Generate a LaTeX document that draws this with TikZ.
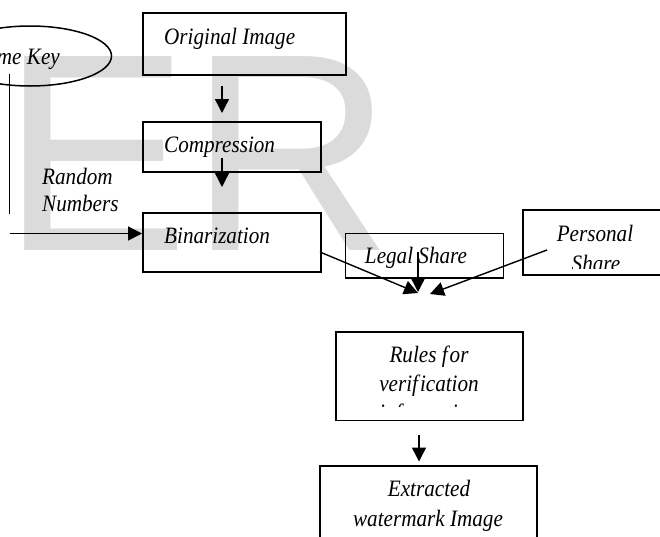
\documentclass[tikz,border=0pt]{standalone}
\usepackage{fontspec}
\setmainfont{Liberation Serif}[FakeStretch=0.9]
\newfontfamily\wmfont{Liberation Sans}
\usetikzlibrary{arrows.meta,shapes.geometric}
\begin{document}
\begin{tikzpicture}[x=1pt,y=-1pt,
  box/.style={draw,line width=1.5pt,rectangle,inner sep=0pt,anchor=north west},
  lbl/.style={inner sep=0pt,font=\fontsize{23.5}{28}\selectfont\itshape},
  conn/.style={line width=1.4pt},
  arr/.style={conn,-{Triangle[length=14pt,width=14pt]}}]
\useasboundingbox (0,0) rectangle (660,536);
% watermark
\node[font=\wmfont\fontsize{282}{282}\selectfont, text=black!14, inner sep=0pt, anchor=base west] (wm) at (1,250) {ER};
% key ellipse
\node[draw, ellipse, line width=1.5pt, minimum width=163pt, minimum height=60pt, inner sep=0pt] (key) at (30,56) {};
\node[lbl, anchor=base east] (keyt) at (60,64) {Time Key};
% boxes
\node[box, minimum width=203pt, minimum height=62pt] (orig) at (142,12) {};
\node[box, minimum width=178pt, minimum height=50pt] (comp) at (142,121) {};
\node[box, minimum width=178pt, minimum height=59pt] (bin) at (142,212) {};
\node[box, minimum width=158pt, minimum height=44.5pt] (legal) at (344.5,232.5) {};
\node[box, minimum width=160pt, minimum height=65pt] (pers) at (522,209) {};
\node[box, minimum width=187pt, minimum height=88.5pt] (rules) at (335,331) {};
\node[box, minimum width=217pt, minimum height=90pt] (extr) at (319,465) {};
% labels
\node[lbl, anchor=base west] (origt) at (164,44) {Original Image};
\node[lbl, anchor=base west] (compt) at (164,152) {Compression};
\node[lbl, anchor=base west] (bint) at (164,243) {Binarization};
\node[lbl, anchor=base west] (rand1) at (42,184) {Random};
\node[lbl, anchor=base west] (rand2) at (42,211) {Numbers};
\node[lbl, anchor=base] (legalt) at (416,263) {Legal Share};
\begin{scope}
\clip (522,209) rectangle (660,268);
\node[lbl, anchor=base] (pers1) at (595,241) {Personal};
\node[lbl, anchor=base] (pers2) at (596,271) {Share};
\end{scope}
\begin{scope}
\clip (335,331) rectangle (522,406.5);
\node[lbl, anchor=base] (rules1) at (429,362) {Rules f\kern2pt or};
\node[lbl, anchor=base] (rules2) at (429,391) {verif\kern2pt ication};
\node[lbl, anchor=base] (rules3) at (429,420) {information};
\end{scope}
\node[lbl, anchor=base] (extr1) at (429,496) {Extracted};
\node[lbl, anchor=base] (extr2) at (428,526.5) {watermark Image};
% connector end points
\coordinate (a1s) at (222,86);   \coordinate (a1e) at (222,113);
\coordinate (a2s) at (222,158);  \coordinate (a2e) at (222,187);
\coordinate (ks) at (9.5,73.5);  \coordinate (ke) at (9.5,213.7);
\coordinate (rs) at (9.5,233.5); \coordinate (re) at (142,233.5);
\coordinate (bs) at (320,252);   \coordinate (be) at (418,293);
\coordinate (ls) at (418,252);   \coordinate (le) at (418,292);
\coordinate (ps) at (547,250);   \coordinate (pe) at (430,294);
\coordinate (a4s) at (419,435);  \coordinate (a4e) at (419,461.5);
% connectors
\draw[arr] (a1s) -- (a1e);
\draw[arr] (a2s) -- (a2e);
\draw[conn] (ks) -- (ke);
\draw[arr] (rs) -- (re);
\draw[arr] (bs) -- (be);
\draw[arr] (ls) -- (le);
\draw[arr] (ps) -- (pe);
\draw[arr] (a4s) -- (a4e);
\end{tikzpicture}
\end{document}
